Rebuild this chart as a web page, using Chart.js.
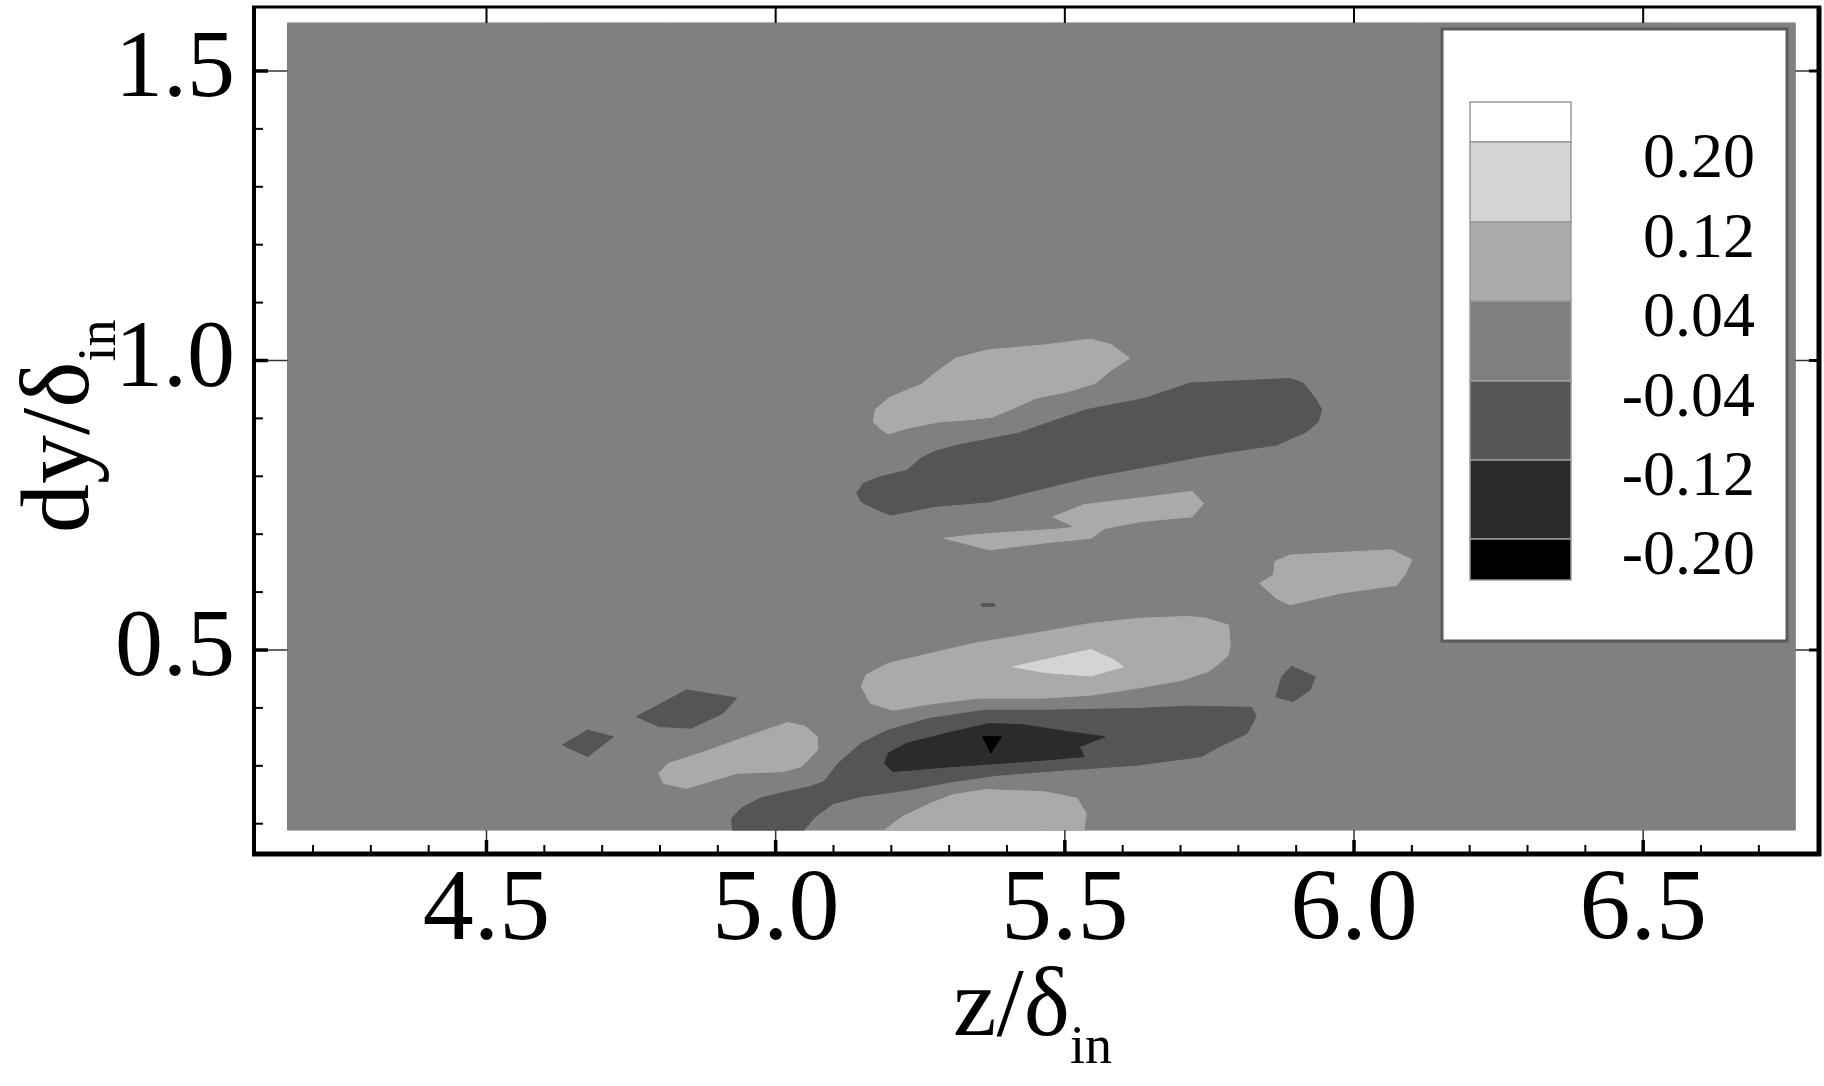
<!DOCTYPE html>
<html>
<head>
<meta charset="utf-8">
<script src="https://cdn.jsdelivr.net/npm/chart.js@4.4.1/dist/chart.umd.min.js"></script>
<style>
  html, body { margin: 0; padding: 0; background: #fff; }
  #wrap { width: 1824px; height: 1086px; position: relative; }
</style>
</head>
<body>
<div id="wrap"><canvas id="contourChart"></canvas></div>
<script>
// contour bands, darkest (< -0.20) to lightest (> 0.20)
const levelColors = ['#000000', '#2b2b2b', '#555555', '#808080', '#aaaaaa', '#d4d4d4', '#ffffff'];
const legendLabels = ['0.20', '0.12', '0.04', '-0.04', '-0.12', '-0.20'];
const zLabels = ['4.5', '5.0', '5.5', '6.0', '6.5'];
const dyLabels = ['0.5', '1.0', '1.5'];

// extent of the computed field
const zDomain = [4.156, 6.763];
const dyDomain = [0.189, 1.583];

// contour patches as [z, dy] outlines
const lightUpper = [[5.311,1.004],[5.366,1.018],[5.466,1.027],[5.545,1.037],[5.581,1.027],[5.612,1.004],[5.581,0.984],[5.553,0.961],[5.505,0.946],[5.450,0.935],[5.410,0.917],[5.374,0.902],[5.338,0.898],[5.283,0.894],[5.227,0.883],[5.195,0.873],[5.180,0.883],[5.169,0.894],[5.172,0.915],[5.195,0.935],[5.227,0.949],[5.251,0.958],[5.275,0.978]];
const darkUpper = [[5.152,0.788],[5.180,0.799],[5.227,0.810],[5.251,0.831],[5.275,0.843],[5.315,0.854],[5.418,0.874],[5.537,0.915],[5.640,0.935],[5.716,0.961],[5.889,0.969],[5.912,0.961],[5.933,0.935],[5.944,0.915],[5.938,0.894],[5.918,0.877],[5.866,0.854],[5.791,0.843],[5.734,0.834],[5.704,0.828],[5.545,0.799],[5.450,0.776],[5.370,0.756],[5.275,0.748],[5.199,0.733],[5.176,0.742],[5.148,0.756],[5.140,0.771]];
const lightMid = [[5.291,0.693],[5.354,0.700],[5.489,0.709],[5.517,0.712],[5.480,0.730],[5.533,0.751],[5.624,0.762],[5.720,0.774],[5.740,0.753],[5.720,0.730],[5.632,0.722],[5.569,0.710],[5.545,0.693],[5.466,0.685],[5.370,0.673]];
const darkDash = [[5.355,0.580],[5.378,0.580],[5.380,0.576],[5.357,0.575]];
const lightRight = [[5.837,0.615],[5.861,0.630],[5.863,0.653],[5.889,0.664],[6.065,0.673],[6.100,0.656],[6.088,0.630],[6.074,0.612],[5.976,0.598],[5.889,0.578],[5.866,0.589]];
const darkRight = [[5.892,0.472],[5.933,0.454],[5.924,0.431],[5.895,0.411],[5.865,0.419],[5.875,0.454]];
const lightLower = [[5.148,0.437],[5.156,0.457],[5.195,0.477],[5.267,0.494],[5.346,0.512],[5.466,0.532],[5.545,0.546],[5.632,0.555],[5.712,0.558],[5.744,0.555],[5.783,0.543],[5.786,0.511],[5.782,0.490],[5.767,0.477],[5.748,0.463],[5.704,0.448],[5.624,0.434],[5.545,0.422],[5.466,0.417],[5.354,0.417],[5.275,0.408],[5.203,0.396],[5.164,0.408]];
const lighterCore = [[5.410,0.471],[5.545,0.501],[5.585,0.483],[5.601,0.471],[5.545,0.455],[5.466,0.461]];
const darkLower = [[4.925,0.189],[4.924,0.209],[4.941,0.227],[4.973,0.244],[5.013,0.254],[5.060,0.264],[5.084,0.273],[5.108,0.304],[5.148,0.339],[5.195,0.362],[5.267,0.382],[5.362,0.396],[5.466,0.396],[5.624,0.399],[5.712,0.403],[5.823,0.401],[5.831,0.385],[5.815,0.356],[5.767,0.333],[5.736,0.316],[5.624,0.301],[5.505,0.293],[5.386,0.284],[5.307,0.273],[5.227,0.258],[5.148,0.247],[5.100,0.235],[5.068,0.212],[5.049,0.189]];
const darkerCore = [[5.188,0.304],[5.195,0.322],[5.227,0.339],[5.307,0.359],[5.370,0.373],[5.426,0.371],[5.505,0.359],[5.569,0.350],[5.525,0.333],[5.533,0.316],[5.466,0.310],[5.386,0.304],[5.307,0.299],[5.203,0.290]];
const blackTip = [[5.358,0.350],[5.390,0.350],[5.372,0.322]];
const lightBottom = [[5.188,0.189],[5.219,0.212],[5.267,0.235],[5.307,0.250],[5.362,0.259],[5.466,0.255],[5.521,0.244],[5.537,0.218],[5.533,0.189]];
const lightLeft = [[4.798,0.287],[4.814,0.304],[4.870,0.322],[4.949,0.350],[5.021,0.375],[5.052,0.368],[5.072,0.350],[5.072,0.327],[5.045,0.299],[5.013,0.290],[4.933,0.287],[4.886,0.273],[4.846,0.261],[4.806,0.270]];
const darkLeft = [[4.759,0.385],[4.846,0.431],[4.933,0.417],[4.909,0.391],[4.854,0.365],[4.798,0.368]];
const darkFarLeft = [[4.631,0.336],[4.675,0.362],[4.719,0.350],[4.675,0.316]];

const field = [[zDomain[0], dyDomain[0]], [zDomain[1], dyDomain[0]], [zDomain[1], dyDomain[1]], [zDomain[0], dyDomain[1]]];

// [outline, band index], listed bottom layer first
const regions = [
    [field, 3],
    [lightUpper, 4],
    [darkUpper, 2],
    [lightMid, 4],
    [darkDash, 2],
    [lightRight, 4],
    [darkRight, 2],
    [darkLower, 2],
    [darkerCore, 1],
    [blackTip, 0],
    [lightLower, 4],
    [lighterCore, 5],
    [lightBottom, 4],
    [lightLeft, 4],
    [darkLeft, 2],
    [darkFarLeft, 2],
];

const serif = 'Liberation Serif';

function labelFor(list, v) {
    return list.find(l => Math.abs(parseFloat(l) - v) < 1e-6) || '';
}

let datasets = regions.map(([poly, lvl], i) => ({
    data: poly.concat([poly[0]]).map(p => ({x: p[0], y: p[1]})),
    showLine: true,
    fill: 'shape',
    backgroundColor: levelColors[lvl],
    borderColor: levelColors[lvl],
    borderWidth: 1,
    pointRadius: 0,
    pointHoverRadius: 0,
    tension: 0,
    order: regions.length - i
}));

// frame, inward ticks, axis titles with subscripts and the band legend
const framePlugin = {
    id: 'frame',
    afterDraw(chart) {
        const ctx = chart.ctx;
        const ca = chart.chartArea;
        const xs = chart.scales.x, ys = chart.scales.y;
        const gx0 = xs.getPixelForValue(zDomain[0]), gx1 = xs.getPixelForValue(zDomain[1]);
        const gyB = ys.getPixelForValue(dyDomain[0]), gyT = ys.getPixelForValue(dyDomain[1]);

        ctx.save();
        ctx.lineCap = 'butt';
        const seg = (x0, y0, x1, y1, w, c) => {
            ctx.beginPath();
            ctx.lineWidth = w;
            ctx.strokeStyle = c || '#000';
            ctx.moveTo(x0, y0);
            ctx.lineTo(x1, y1);
            ctx.stroke();
        };

        xs.ticks.forEach(t => {
            const px = xs.getPixelForValue(t.value);
            if (px < ca.left + 6 || px > ca.right - 6) return;
            if (labelFor(zLabels, t.value)) {
                seg(px, ca.bottom, px, gyB, 1.5, '#333');
                seg(px, ca.bottom, px, ca.bottom - 14, 3.5);
                seg(px, ca.top, px, gyT, 2);
            } else {
                seg(px, ca.bottom, px, ca.bottom - 9, 2);
            }
        });
        ys.ticks.forEach(t => {
            const py = ys.getPixelForValue(t.value);
            if (py < ca.top + 10 || py > ca.bottom - 6) return;
            if (labelFor(dyLabels, t.value)) {
                seg(ca.left, py, gx0, py, 1.5, '#333');
                seg(ca.left, py, ca.left + 14, py, 3.5);
                seg(ca.right, py, gx1, py, 1.5, '#333');
                seg(ca.right, py, ca.right - 10, py, 3);
            } else {
                seg(ca.left, py, ca.left + 9, py, 2);
            }
        });

        // axis box
        seg(ca.left - 2, ca.top, ca.right + 2, ca.top, 3);
        seg(ca.right, ca.top - 1, ca.right, ca.bottom + 2, 5);
        seg(ca.left - 2, ca.bottom, ca.right + 2, ca.bottom, 5);
        seg(ca.left, ca.top - 1, ca.left, ca.bottom + 2, 4);

        // axis titles
        ctx.fillStyle = '#000';
        ctx.textAlign = 'left';
        ctx.textBaseline = 'alphabetic';
        ctx.font = '98px "' + serif + '"';
        ctx.fillText('z/δ', 953, 1035);
        let w = ctx.measureText('z/δ').width;
        ctx.font = '54px "' + serif + '"';
        ctx.fillText('in', 953 + w, 1063);

        ctx.translate(88, 533);
        ctx.rotate(-Math.PI / 2);
        ctx.font = '98px "' + serif + '"';
        ctx.fillText('dy/δ', 0, 0);
        w = ctx.measureText('dy/δ').width;
        ctx.font = '54px "' + serif + '"';
        ctx.fillText('in', w, 27);
        ctx.restore();

        // legend
        ctx.save();
        const box = {l: 1442, t: 29, r: 1787, b: 641};
        ctx.fillStyle = '#fff';
        ctx.fillRect(box.l, box.t, box.r - box.l, box.b - box.t);
        ctx.lineWidth = 3;
        ctx.strokeStyle = '#5a5a5a';
        ctx.strokeRect(box.l, box.t, box.r - box.l, box.b - box.t);
        const edges = [102, 142, 222, 301, 381, 460, 539, 580];
        const sx = 1470, sw = 101;
        for (let i = 0; i < 7; i++) {
            ctx.fillStyle = levelColors[6 - i];
            ctx.fillRect(sx, edges[i], sw, edges[i + 1] - edges[i]);
            ctx.lineWidth = 1.5;
            ctx.strokeStyle = '#9a9a9a';
            ctx.strokeRect(sx, edges[i], sw, edges[i + 1] - edges[i]);
        }
        ctx.fillStyle = '#000';
        ctx.font = '64px "' + serif + '"';
        ctx.textAlign = 'right';
        ctx.textBaseline = 'middle';
        legendLabels.forEach((l, i) => {
            ctx.fillText(l, 1755, edges[i + 1] + 18);
        });
        ctx.restore();
    }
};

let context = document.getElementById("contourChart").getContext("2d");

new Chart(context, {
    type: 'scatter',
    data: { datasets: datasets },
    options: {
        responsive: true,
        maintainAspectRatio: false,
        animation: false,
        events: [],
        layout: { padding: { top: 7, right: 5, left: 0, bottom: 0 } },
        plugins: {
            legend: { display: false },
            tooltip: { enabled: false }
        },
        scales: {
            x: {
                type: 'linear',
                min: 4.098,
                max: 6.804,
                grid: { display: false, drawTicks: false },
                border: { display: false },
                ticks: {
                    stepSize: 0.1,
                    includeBounds: false,
                    autoSkip: false,
                    maxRotation: 0,
                    padding: -3,
                    color: '#000',
                    font: { family: serif, size: 102 },
                    callback: v => labelFor(zLabels, v)
                },
                afterFit: s => { s.height = 232; s.paddingLeft = 0; s.paddingRight = 0; }
            },
            y: {
                type: 'linear',
                min: 0.1477,
                max: 1.6105,
                grid: { display: false, drawTicks: false },
                border: { display: false },
                ticks: {
                    stepSize: 0.1,
                    includeBounds: false,
                    autoSkip: false,
                    padding: 19,
                    color: '#000',
                    font: { family: serif, size: 96 },
                    callback: v => labelFor(dyLabels, v)
                },
                afterFit: s => { s.width = 254; s.paddingTop = 0; s.paddingBottom = 0; }
            }
        }
    },
    plugins: [framePlugin]
});
</script>
</body>
</html>
